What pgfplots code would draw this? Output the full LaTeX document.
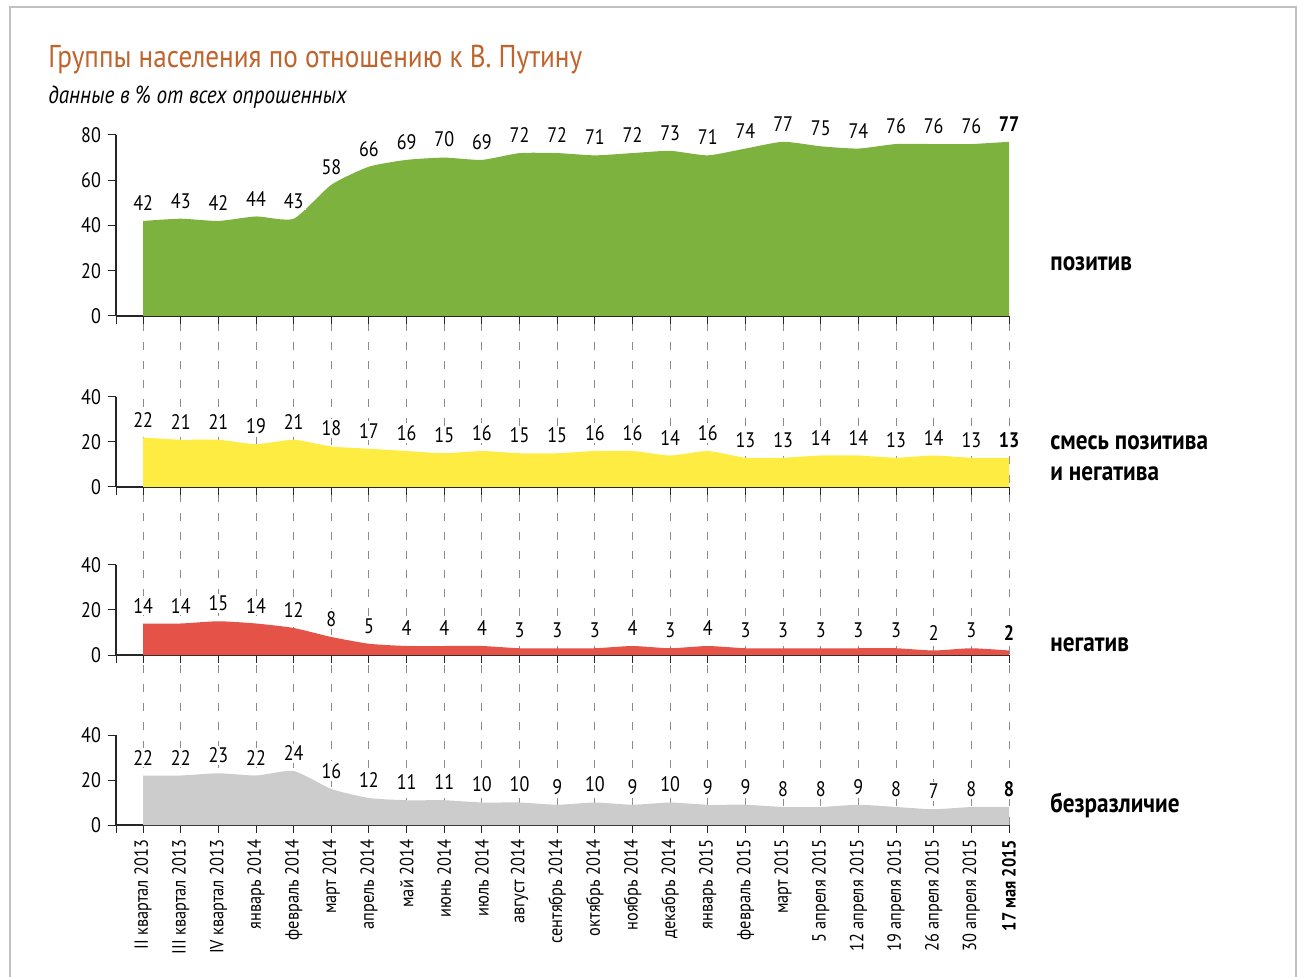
\documentclass[border=0pt]{standalone}
\usepackage{fontspec}
\setmainfont{PT Sans}[FakeStretch=0.86]
\usepackage{pgfplots}
\pgfplotsset{compat=1.18}
\definecolor{cgreen}{RGB}{125,178,63}
\definecolor{cyellow}{RGB}{255,236,66}
\definecolor{cred}{RGB}{229,82,72}
\definecolor{cgray}{RGB}{204,204,204}
\definecolor{ctitle}{RGB}{192,100,45}
\definecolor{cframe}{RGB}{192,192,192}
\pgfplotsset{
 panel/.style={
  scale only axis, width=446.5pt,
  xmin=-0.72, xmax=23, ymin=0,
  axis x line*=bottom, axis y line*=left,
  axis line style={black!85, line width=0.6pt},
  xtick={0,...,23}, xticklabels={},
  extra x ticks={-0.72}, extra x tick labels={},
  tick align=outside, major tick length=4pt,
  tick style={black!85, line width=0.5pt},
  yticklabel style={font=\fontsize{10.5}{12}\selectfont},
  /pgf/number format/assume math mode=true,
  clip=false,
  nodes near coords, point meta=explicit symbolic,
  nodes near coords style={font=\fontsize{10.5}{12}\selectfont, anchor=south, fill=white, inner sep=1pt, yshift=4pt},
 },
 area/.style={draw=none, fill=#1, smooth, tension=0.35},
}
\begin{document}
\begin{tikzpicture}[x=1pt,y=1pt]
\useasboundingbox (0,0) rectangle (650.5,488);
\draw[cframe, line width=1.2pt] (5,-2) -- (5,484.5) -- (648,484.5) -- (648,-2);
\node[anchor=base west, text=ctitle, font=\fontsize{15.8}{19}\selectfont, inner sep=0pt] at (24,454) {Группы населения по отношению к В. Путину};
\node[anchor=base west, font=\itshape\fontsize{12.3}{14}\selectfont, inner sep=0pt] at (24,436) {данные в \% от всех опрошенных};

% grid overlay
\begin{axis}[at={(58pt,75.5pt)}, anchor=south west, scale only axis,
  width=446.5pt, height=254.5pt, xmin=-0.72, xmax=23, ymin=0, ymax=1,
  axis line style={draw=none}, tick style={draw=none},
  xtick={0,...,23}, xticklabels={}, ytick=\empty,
  xmajorgrids, major grid style={black!45, line width=0.5pt, dash pattern=on 4pt off 5.5pt}]
\end{axis}

% panel 1
\begin{axis}[panel, at={(58pt,330pt)}, anchor=south west, height=90.5pt, ymax=80, ytick={0,20,40,60,80}]
\addplot[area=cgreen] table[meta=l] {
x y l
0 42 42
1 43 43
2 42 42
3 44 44
4 43 43
5 58 58
6 66 66
7 69 69
8 70 70
9 69 69
10 72 72
11 72 72
12 71 71
13 72 72
14 73 73
15 71 71
16 74 74
17 77 77
18 75 75
19 74 74
20 76 76
21 76 76
22 76 76
23 77 \textbf{77}
} \closedcycle;
\end{axis}

% panel 2
\begin{axis}[panel, at={(58pt,244.5pt)}, anchor=south west, height=45pt, ymax=40, ytick={0,20,40}]
\addplot[area=cyellow] table[meta=l] {
x y l
0 22 22
1 21 21
2 21 21
3 19 19
4 21 21
5 18 18
6 17 17
7 16 16
8 15 15
9 16 16
10 15 15
11 15 15
12 16 16
13 16 16
14 14 14
15 16 16
16 13 13
17 13 13
18 14 14
19 14 14
20 13 13
21 14 14
22 13 13
23 13 \textbf{13}
} \closedcycle;
\end{axis}

% panel 3
\begin{axis}[panel, at={(58pt,160.5pt)}, anchor=south west, height=45pt, ymax=40, ytick={0,20,40}]
\addplot[area=cred] table[meta=l] {
x y l
0 14 14
1 14 14
2 15 15
3 14 14
4 12 12
5 8 8
6 5 5
7 4 4
8 4 4
9 4 4
10 3 3
11 3 3
12 3 3
13 4 4
14 3 3
15 4 4
16 3 3
17 3 3
18 3 3
19 3 3
20 3 3
21 2 2
22 3 3
23 2 \textbf{2}
} \closedcycle;
\end{axis}

% panel 4
\begin{axis}[panel, at={(58pt,75.5pt)}, anchor=south west, height=45pt, ymax=40, ytick={0,20,40},
  xticklabels={II квартал 2013, III квартал 2013, IV квартал 2013, январь 2014, февраль 2014, март 2014, апрель 2014, май 2014, июнь 2014, июль 2014, август 2014, сентябрь 2014, октябрь 2014, ноябрь 2014, декабрь 2014, январь 2015, февраль 2015, март 2015, 5 апреля 2015, 12 апреля 2015, 19 апреля 2015, 26 апреля 2015, 30 апреля 2015, \textbf{17 мая 2015}},
  xticklabel style={rotate=90, anchor=east, font=\fontsize{9.5}{11}\selectfont}]
\addplot[area=cgray] table[meta=l] {
x y l
0 22 22
1 22 22
2 23 23
3 22 22
4 24 24
5 16 16
6 12 12
7 11 11
8 11 11
9 10 10
10 10 10
11 9 9
12 10 10
13 9 9
14 10 10
15 9 9
16 9 9
17 8 8
18 8 8
19 9 9
20 8 8
21 7 7
22 8 8
23 8 \textbf{8}
} \closedcycle;
\end{axis}

\begin{scope}[every node/.style={anchor=base west, inner sep=0pt, font=\bfseries\fontsize{13.5}{15}\selectfont}]
\node at (525,352.5) {позитив};
\node at (525,263) {смесь позитива};
\node at (525,247.5) {и негатива};
\node at (525,162.5) {негатив};
\node at (525,82) {безразличие};
\end{scope}
\end{tikzpicture}
\end{document}
